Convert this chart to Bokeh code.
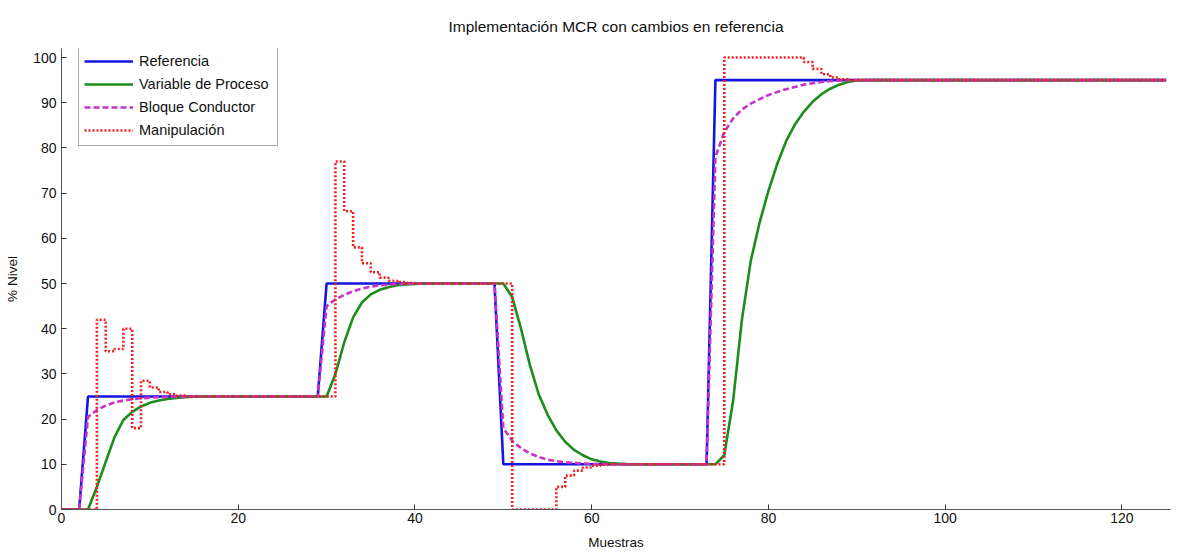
from bokeh.plotting import figure
from bokeh.models import Legend, LegendItem, Range1d, FixedTicker
from bokeh.embed import file_html
from bokeh.resources import INLINE

# ---- data ----
muestras = list(range(0, 126))

referencia = [0, 0, 0] + [25] * 27 + [50] * 20 + [10] * 24 + [95] * 52

variable_proceso = ([0, 0, 0, 0, 5, 10.5, 16, 19.8, 21.6, 22.8, 23.6, 24.1, 24.45, 24.7, 24.85, 24.95]
                    + [25] * 14
                    + [25, 30, 37, 42.5, 45.8, 47.6, 48.6, 49.2, 49.6, 49.8, 49.9]
                    + [50] * 9
                    + [50, 47, 40, 32, 25.5, 21, 17.5, 15, 13.2, 12, 11.1, 10.6, 10.3, 10.15, 10.05]
                    + [10] * 9
                    + [10, 12, 24, 42, 55, 63.5, 70.5, 76.5, 81.5, 85.2, 88, 90.2, 91.9, 93.1, 94, 94.6, 94.9]
                    + [95] * 35)

bloque_conductor = ([0, 0, 0, 20.5, 22, 23, 23.7, 24.1, 24.4, 24.6, 24.75, 24.85, 24.9, 24.95]
                    + [25] * 16
                    + [45, 46.5, 47.5, 48.3, 48.9, 49.3, 49.6, 49.75, 49.85, 49.93]
                    + [50] * 10
                    + [18, 15.2, 13.6, 12.4, 11.6, 11.0, 10.7, 10.45, 10.3, 10.2, 10.1, 10.05]
                    + [10] * 12
                    + [78, 83.5, 86.5, 88.5, 89.8, 90.8, 91.7, 92.4, 93, 93.5, 94, 94.3, 94.6, 94.8, 94.9]
                    + [95] * 37)

manipulacion = ([0, 0, 0, 0, 42, 35, 35.5, 40, 18, 28.5, 27, 26, 25.5, 25.2]
                + [25] * 17
                + [77, 66, 58, 54.5, 52.5, 51.3, 50.6, 50.3, 50.1]
                + [50] * 11
                + [0] * 5
                + [5, 7.5, 8.6, 9.3, 9.7, 9.9]
                + [10] * 13
                + [100] * 9
                + [99, 97.5, 96.3, 95.6, 95.2]
                + [95] * 37)

x_ticks = [0, 20, 40, 60, 80, 100, 120]
y_ticks = [0, 10, 20, 30, 40, 50, 60, 70, 80, 90, 100]

FONT = "Liberation Sans"

p = figure(width=1178, height=552, output_backend="svg", toolbar_location=None,
           x_range=Range1d(0, 125.5), y_range=Range1d(0, 102),
           min_border_left=61, min_border_right=8, min_border_top=48, min_border_bottom=43,
           x_axis_label="Muestras", y_axis_label="% Nivel")
p.title.text = "Implementación MCR con cambios en referencia"
p.title.align = "center"
p.title.text_font = FONT
p.title.text_font_size = "15.5px"
p.title.text_font_style = "normal"
p.title.text_color = "#111111"
p.title.standoff = 27

p.grid.visible = False
p.outline_line_color = None
p.background_fill_color = "white"
p.border_fill_color = "white"

for ax in (p.xaxis[0], p.yaxis[0]):
    ax.major_tick_in = 5
    ax.major_tick_out = 0
    ax.minor_tick_line_color = None
    ax.axis_line_color = "#555555"
    ax.major_tick_line_color = "#333333"
    ax.major_label_text_font = FONT
    ax.major_label_text_font_size = "14px"
    ax.major_label_text_color = "#111111"
    ax.axis_label_text_font = FONT
    ax.axis_label_text_font_size = "13.5px"
    ax.axis_label_text_font_style = "normal"
    ax.axis_label_text_color = "#111111"

p.xaxis[0].ticker = FixedTicker(ticks=x_ticks)
p.yaxis[0].ticker = FixedTicker(ticks=y_ticks)
p.xaxis[0].major_label_standoff = 3
p.xaxis[0].axis_label_standoff = 9
p.yaxis[0].major_label_standoff = 5
p.yaxis[0].axis_label_standoff = 10

r_ref = p.line(muestras, referencia, line_color="#1515e0", line_width=2.6)
r_pv = p.line(muestras, variable_proceso, line_color="#1c8c1c", line_width=2.6)
r_bc = p.line(muestras, bloque_conductor, line_color="#c832c8", line_width=2.6, line_dash="6 3")
r_man = p.step(muestras, manipulacion, mode="after", line_color="#f22020", line_width=2.6, line_dash="2 2")

legend = Legend(items=[
    LegendItem(label="Referencia", renderers=[r_ref]),
    LegendItem(label="Variable de Proceso", renderers=[r_pv]),
    LegendItem(label="Bloque Conductor", renderers=[r_bc]),
    LegendItem(label="Manipulación", renderers=[r_man]),
], location=(17, 363))
legend.margin = 0
legend.padding = 5
legend.spacing = 3
legend.label_height = 20
legend.glyph_height = 20
legend.glyph_width = 49
legend.label_standoff = 6
legend.label_width = 133
legend.label_text_font = FONT
legend.label_text_font_size = "14.5px"
legend.label_text_color = "#111111"
legend.border_line_color = "#555555"
legend.border_line_width = 1
legend.background_fill_color = "white"
legend.background_fill_alpha = 1
p.add_layout(legend, "center")

open("out.html", "w").write(file_html(p, INLINE))
